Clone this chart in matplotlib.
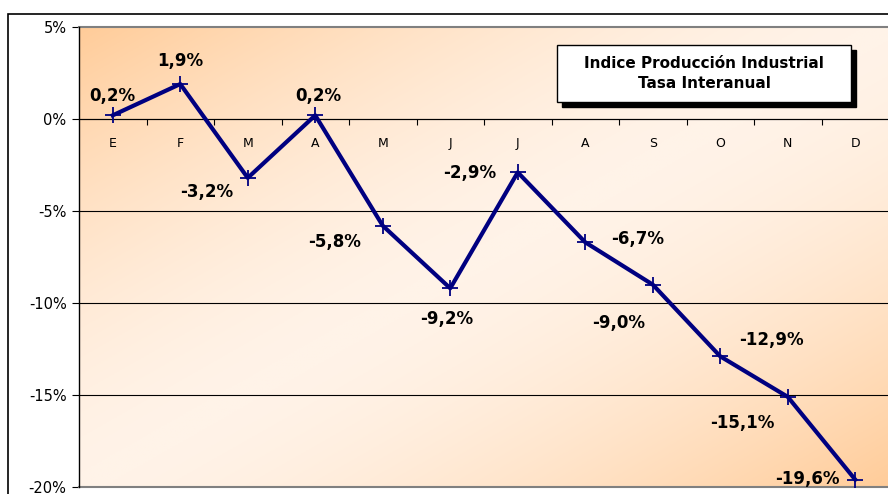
import matplotlib.pyplot as plt
import numpy as np
from matplotlib.patches import Rectangle
from matplotlib.colors import LinearSegmentedColormap

months = ['E', 'F', 'M', 'A', 'M', 'J', 'J', 'A', 'S', 'O', 'N', 'D']
tasa = [0.2, 1.9, -3.2, 0.2, -5.8, -9.2, -2.9, -6.7, -9.0, -12.9, -15.1, -19.6]
# label offsets in pixels relative to each point
label_dx = [0, 0, -41, 3, -48, -4, -48, 52, -34, 51, -45, -48]
label_dy = [19, 23, -14, 19, -16, -31, -1, 3, -38, 16, -26, 1]
yticks = [5, 0, -5, -10, -15, -20]

fig = plt.figure(figsize=(8.88, 4.94), dpi=100)
ax = fig.add_axes([79 / 888, 7 / 494, 810 / 888, 460 / 494])

# outer chart border
fig.patches.append(Rectangle((8 / 888, -0.1), 1.2, (494 - 14) / 494 + 0.1,
                             transform=fig.transFigure, fill=False,
                             edgecolor='black', linewidth=1.2))

# diagonal gradient background
n = 300
gx, gy = np.meshgrid(np.linspace(0, 1, n), np.linspace(1, 0, n))
d = np.abs(gx - gy) ** 1.6
cmap = LinearSegmentedColormap.from_list('peach', ['#FFF3E8', '#FFCC99'])
ax.imshow(d, cmap=cmap, extent=[0, 1, 0, 1], transform=ax.transAxes,
          aspect='auto', zorder=0, vmin=0, vmax=1)

x = np.arange(len(months)) + 0.5
ax.plot(x, tasa, color='#000080', linewidth=3, marker='+', markersize=11,
        markeredgewidth=1.3, zorder=3, clip_on=False)

for xi, v, dx, dy in zip(x, tasa, label_dx, label_dy):
    ax.annotate(f'{v:.1f}%'.replace('.', ','), (xi, v), xytext=(dx, dy),
                textcoords='offset pixels', ha='center', va='center',
                fontsize=12, fontweight='bold', zorder=4)

ax.set_xlim(0, len(months))
ax.set_ylim(-20, 5)

for yv in [0, -5, -10, -15]:
    ax.axhline(yv, color='black', linewidth=0.8, zorder=1)
ax.axhline(-20, color='#808080', linewidth=1.5, zorder=2, clip_on=False)
ax.axhline(5, color='#808080', linewidth=1.5, zorder=2, clip_on=False)

ax.set_yticks(yticks)
ax.set_yticklabels([f'{t}%' for t in yticks], fontsize=10.5)
ax.tick_params(axis='y', direction='out', length=5, width=0.8, pad=4)

# x axis placed at 0%
ax.spines['bottom'].set_position(('data', 0))
ax.spines['bottom'].set_linewidth(0.8)
ax.set_xticks(x)
ax.set_xticklabels(months, fontsize=9)
ax.set_xticks(np.arange(1, len(months)), minor=True)
ax.tick_params(axis='x', which='major', length=0, pad=13)
ax.tick_params(axis='x', which='minor', length=4, width=0.8, direction='out')

for s in ['top', 'right']:
    ax.spines[s].set_visible(False)
ax.spines['left'].set_linewidth(1.0)

# title box with shadow
bx, by, bw, bh = 557 / 888, (494 - 102) / 494, 294 / 888, 57 / 494
fig.patches.append(Rectangle((bx + 5 / 888, by - 5 / 494), bw, bh,
                             transform=fig.transFigure, facecolor='black',
                             edgecolor='black', zorder=5))
fig.patches.append(Rectangle((bx, by), bw, bh, transform=fig.transFigure,
                             facecolor='white', edgecolor='black',
                             linewidth=1, zorder=6))
fig.text(bx + bw / 2, by + bh / 2, 'Indice Producción Industrial\nTasa Interanual',
         ha='center', va='center', fontsize=11, fontweight='bold',
         linespacing=1.4, zorder=7)

fig.savefig('out.png', dpi=100)
